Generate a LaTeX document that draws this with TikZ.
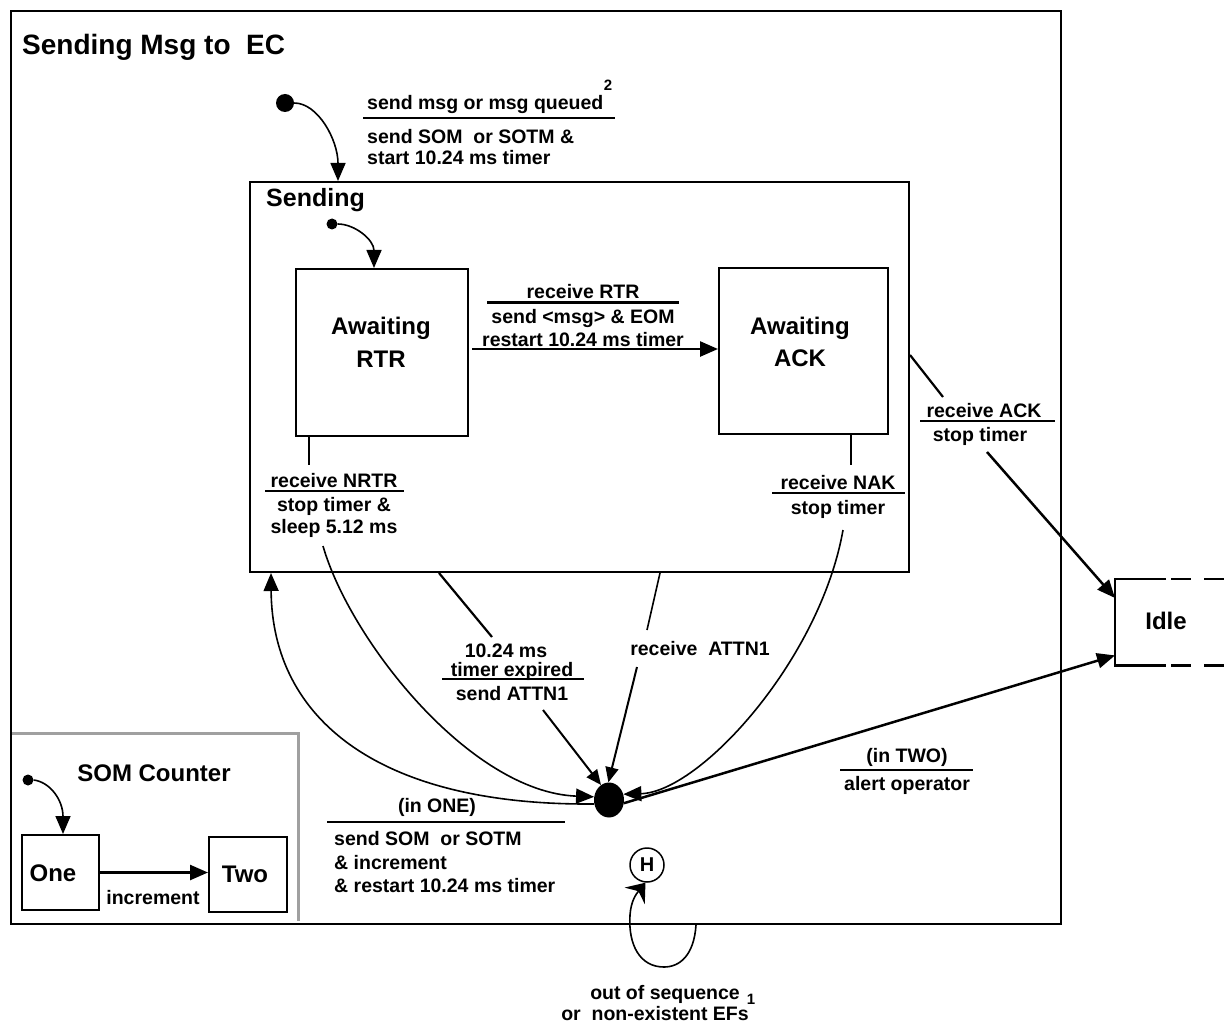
\documentclass[tikz,border=0pt]{standalone}
\usepackage{fontspec}
\setmainfont{Liberation Sans}
\usetikzlibrary{arrows.meta,shapes.geometric,calc}
\definecolor{somgray}{RGB}{160,160,160}
\tikzset{
  box/.style={draw, line width=2pt, inner sep=0pt, anchor=north west},
  lbl/.style={font=\fontsize{19.5}{23}\selectfont\bfseries, inner sep=0pt, anchor=base},
  big/.style={font=\fontsize{24}{28}\selectfont\bfseries, inner sep=0pt, anchor=base},
  supr/.style={font=\fontsize{15}{17}\selectfont\bfseries, inner sep=0pt, anchor=base},
  arr/.style={-{Triangle[length=18pt,width=15pt]}, line width=2.5pt},
  carr/.style={-{Triangle[length=18pt,width=15pt]}, line width=1.6pt},
  sarr/.style={-{Triangle[length=15pt,width=13pt]}, line width=2pt},
  thinl/.style={line width=1.6pt},
  lead/.style={line width=2.2pt},
  uline/.style={line width=2.2pt},
  blob/.style={circle, fill, inner sep=0pt},
}
\begin{document}
\begin{tikzpicture}[x=1pt,y=-1pt]
\useasboundingbox (0,0) rectangle (1225,1024);
\fill[white] (0,0) rectangle (1225,1024);

% ---- containers and states
\node[box] (outer) at (10,10) [minimum width=1050pt, minimum height=913pt] {};
\node[font=\fontsize{28}{32}\selectfont\bfseries, inner sep=0pt, anchor=base west] (title) at (22,55) {Sending Msg to\ \ EC};

\node[box] (sending) at (249,181) [minimum width=659pt, minimum height=390pt] {};
\node[font=\fontsize{25}{29}\selectfont\bfseries, inner sep=0pt, anchor=base west] (sendT) at (266,207) {Sending};

\node[box] (rtr) at (295,268) [minimum width=172pt, minimum height=167pt] {};
\node[big] (rtrT1) at (381,334) {Awaiting};
\node[big] (rtrT2) at (381,367) {RTR};

\node[box] (ack) at (718,267) [minimum width=169pt, minimum height=166pt] {};
\node[big] (ackT1) at (800,334) {Awaiting};
\node[big] (ackT2) at (800,366) {ACK};

% Idle (partially drawn)
\node[inner sep=0pt, anchor=north west, minimum width=110pt, minimum height=86pt] (idle) at (1115,579) {};
\node[big] (idleT) at (1166,629) {Idle};
\draw[line width=2.2pt] ($(idle.north west)+(51,0)$) -- (idle.north west) -- (idle.south west) -- ($(idle.south west)+(51,0)$);
\draw[line width=2.2pt, dash pattern=on 20pt off 13pt] ($(idle.north west)+(56,0)$) -- (idle.north east);
\draw[line width=2.2pt, dash pattern=on 20pt off 13pt] ($(idle.south west)+(56,0)$) -- (idle.south east);

% SOM Counter region
\draw[somgray, line width=3pt] (12,733) -- (298,733) -- (298,921);
\node[big] (somT) at (154,781) {SOM Counter};
\node[box] (one) at (21,834) [minimum width=77pt, minimum height=75pt] {};
\node[big] (oneT) at (53,881) {One};
\node[box] (two) at (208,836) [minimum width=78pt, minimum height=75pt] {};
\node[big] (twoT) at (245,882) {Two};
\node[lbl] (incT) at (153,904) {increment};

% pseudo states
\node[blob, minimum size=18pt] (init) at (285,103) {};
\node[blob, minimum size=11pt] (init2) at (332,224) {};
\node[blob, minimum size=11pt] (init3) at (28,780) {};
\node[ellipse, fill, inner sep=0pt, minimum width=30pt, minimum height=35pt] (dot) at (609,800) {};
\node[circle, draw, line width=1.5pt, inner sep=0pt, minimum size=34pt, font=\fontsize{20}{24}\selectfont\bfseries] (hist) at (647,865) {H};

% ---- coordinates on borders
\coordinate (sIn) at ($(sending.north west)+(89,0)$);
\coordinate (rIn) at ($(rtr.north west)+(79,0)$);
\coordinate (oIn) at ($(one.north west)+(42,0)$);
\coordinate (ra) at ($(rtr.north east)+(3,81)$);
\coordinate (nr1) at ($(rtr.south west)+(14,0)$);
\coordinate (nr2) at (323,546);
\coordinate (nk1) at ($(ack.south west)+(133,0)$);
\coordinate (nk2) at (843,530);
\coordinate (t1) at ($(sending.south west)+(190,0)$);
\coordinate (t2) at (492,637);
\coordinate (t3) at (543,710);
\coordinate (a1) at ($(sending.south west)+(411,0)$);
\coordinate (a2) at (647,630);
\coordinate (a3) at (637,667);
\coordinate (upT) at ($(sending.south west)+(22,0)$);
\coordinate (ak1) at (910,355);
\coordinate (ak2) at (943,397);
\coordinate (ak3) at (987,452);
\coordinate (idleA) at ($(idle.north west)+(0,19)$);
\coordinate (idleB) at ($(idle.south west)+(0,-10)$);
\coordinate (lp1) at ($(outer.south west)+(686,0)$);

% ---- connectors
\draw[carr] (init.east) .. controls (318,103) and (338,140) .. (sIn);
\draw[carr] (init2.east) .. controls (355,224) and (374,240) .. (rIn);
\draw[carr] (init3.east) .. controls (50,782) and (63,800) .. (oIn);
\draw[arr] (ra) -- (ra -| ack.west);
\draw[arr] (one.east) -- (two.west |- one.east);

\draw[thinl] (nr1) -- ++(0,28);
\draw[carr] (nr2) .. controls (350,640) and (470,792) .. (dot.168);
\draw[thinl] (nk1) -- ++(0,30);
\draw[carr] (nk2) .. controls (820,660) and (700,792) .. (dot.22);

\draw[lead] (t1) -- (t2);
\draw[sarr] (t3) -- (dot.118);
\draw[thinl] (a1) -- (a2);
\draw[sarr] (a3) -- (dot.92);

\draw[carr] (dot.195) .. controls (380,806) and (272,720) .. (upT);

\draw[lead] (ak1) -- (ak2);
\draw[arr] (ak3) -- (idleA);
\draw[arr] (dot.-12) -- (idleB);

\draw[thinl, -{Stealth[length=17pt,width=26pt,inset=6pt]}] (lp1) .. controls (694,955) and (680,967) .. (664,967)
   .. controls (640,967) and (628,945) .. (630,915) .. controls (631,900) and (637,893) .. (hist.-95);

% ---- labels
\node[lbl, anchor=base west] (l1a) at (367,110) {send msg or msg queued};
\node[supr] (l1s) at (608,91) {2};
\draw[line width=2.6pt] (363,118) -- (615,118);
\node[lbl, anchor=base west] (l1b) at (367,144) {send SOM\ \ or SOTM \&};
\node[lbl, anchor=base west] (l1c) at (367,165) {start 10.24 ms timer};

\node[lbl] (l2a) at (583,298) {receive RTR};
\draw[uline] (487,302.5) -- (679,302.5);
\node[lbl] (l2b) at (583,323) {send <msg> \& EOM};
\node[lbl] (l2c) at (583,346) {restart 10.24 ms timer};

\node[lbl] (l3a) at (334,487) {receive NRTR};
\draw[uline] (265,491) -- (404,491);
\node[lbl] (l3b) at (334,511) {stop timer \&};
\node[lbl] (l3c) at (334,533) {sleep 5.12 ms};

\node[lbl] (l4a) at (838,489) {receive NAK};
\draw[uline] (772,493) -- (905,493);
\node[lbl] (l4b) at (838,514) {stop timer};

\node[lbl] (l5a) at (506,657) {10.24 ms};
\node[lbl] (l5b) at (512,676) {timer expired};
\draw[uline] (442,679) -- (584,679);
\node[lbl] (l5c) at (512,700) {send ATTN1};

\node[lbl] (l6) at (700,655) {receive\ \ ATTN1};

\node[lbl] (l7a) at (984,417) {receive ACK};
\draw[uline] (920,421) -- (1055,421);
\node[lbl] (l7b) at (980,441) {stop timer};

\node[lbl] (l8a) at (907,762) {(in TWO)};
\draw[uline] (840,770) -- (973,770);
\node[lbl] (l8b) at (907,790) {alert operator};

\node[lbl] (l9a) at (437,812) {(in ONE)};
\draw[uline] (327,822) -- (565,822);
\node[lbl, anchor=base west] (l9b) at (334,845) {send SOM\ \ or SOTM};
\node[lbl, anchor=base west] (l9c) at (334,869) {\& increment};
\node[lbl, anchor=base west] (l9d) at (334,892) {\& restart 10.24 ms timer};

\node[lbl] (l10a) at (665,999) {out of sequence};
\node[supr] (l10s) at (751,1004) {1};
\node[lbl] (l10b) at (655,1020) {or\ \ non-existent EFs};
\end{tikzpicture}
\end{document}
